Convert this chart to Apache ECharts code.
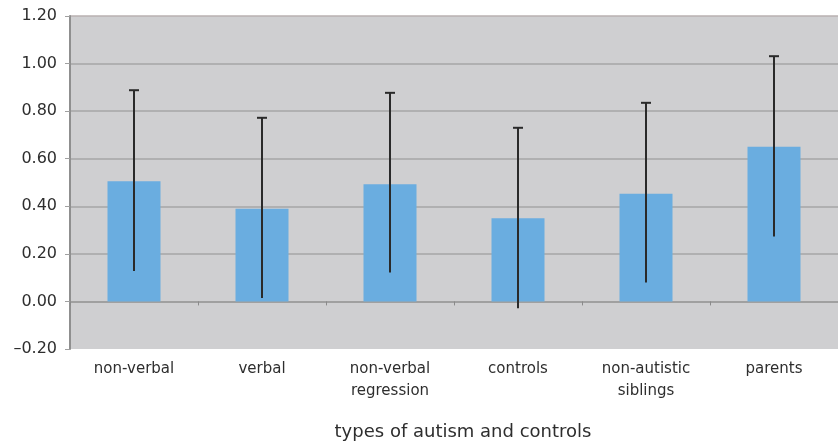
<!DOCTYPE html>
<html>
<head>
<meta charset="utf-8">
<script src="https://cdn.jsdelivr.net/npm/echarts@6/dist/echarts.min.js"></script>
<style>
html,body{margin:0;padding:0;background:#fff;}
#chart{width:838px;height:443px;}
</style>
</head>
<body>
<div id="chart"></div>
<script>
var categories = ['non-verbal', 'verbal', 'non-verbal\nregression', 'controls', 'non-autistic\nsiblings', 'parents'];
var means = [0.505, 0.390, 0.493, 0.350, 0.453, 0.650];
var errHigh = [0.888, 0.772, 0.877, 0.730, 0.835, 1.031];
var errLow = [0.128, 0.014, 0.122, -0.029, 0.080, 0.273];
var yMin = -0.2, yMax = 1.2, yStep = 0.2;
var xTitle = 'types of autism and controls';

var errData = categories.map(function (c, i) { return [i, errLow[i], errHigh[i]]; });
var gridColors = ['rgba(0,0,0,0)', '#a6a6a6', '#a6a6a6', '#a6a6a6', '#a6a6a6', '#a6a6a6', '#a6a6a6', '#b8b0b0'];

var chart = echarts.init(document.getElementById('chart'), null, {renderer: 'canvas'});
chart.setOption({
  animation: false,
  backgroundColor: '#ffffff',
  grid: {
    left: 70, right: -10, top: 16, bottom: 94,
    show: true, backgroundColor: '#cfcfd1', borderWidth: 0
  },
  xAxis: [{
    type: 'category',
    data: categories,
    position: 'bottom',
    axisLine: {show: false, onZero: false},
    axisTick: {show: false},
    axisLabel: {
      color: '#2e2e2e', fontFamily: 'DejaVu Sans', fontSize: 15,
      lineHeight: 22, margin: 9, interval: 0
    }
  }, {
    type: 'category',
    data: categories,
    position: 'top',
    axisLine: {show: true, onZero: true, lineStyle: {color: '#9a9a9a', width: 1.5}},
    axisTick: {show: true, inside: true, length: 4, lineStyle: {color: '#8a8a8a'}},
    axisLabel: {show: false}
  }],
  yAxis: {
    type: 'value',
    min: yMin, max: yMax, interval: yStep,
    axisLine: {show: true, lineStyle: {color: '#8f8f8f', width: 2}},
    axisTick: {show: true, length: 5, lineStyle: {color: '#a0a0a0'}},
    splitLine: {show: true, lineStyle: {color: gridColors, width: 1.5}},
    axisLabel: {
      color: '#2e2e2e', fontFamily: 'DejaVu Sans', fontSize: 16, margin: 13,
      formatter: function (v) {
        var s = Math.abs(v).toFixed(2);
        return v < -1e-9 ? '\u2013' + s : s;
      }
    }
  },
  series: [{
    type: 'bar',
    xAxisIndex: 0,
    data: means,
    barWidth: 53,
    itemStyle: {color: '#6aade0'}
  }, {
    type: 'custom',
    xAxisIndex: 0,
    data: errData,
    encode: {x: 0, y: [1, 2]},
    z: 10,
    renderItem: function (params, api) {
      var x = api.value(0);
      var lo = api.coord([x, api.value(1)]);
      var hi = api.coord([x, api.value(2)]);
      var cap = 5;
      return {
        type: 'group',
        children: [{
          type: 'line',
          shape: {x1: hi[0], y1: hi[1], x2: lo[0], y2: lo[1]},
          style: {stroke: '#2a2a2a', lineWidth: 2}
        }, {
          type: 'line',
          shape: {x1: hi[0] - cap, y1: hi[1], x2: hi[0] + cap, y2: hi[1]},
          style: {stroke: '#2a2a2a', lineWidth: 2}
        }]
      };
    }
  }],
  graphic: [{
    type: 'text',
    x: 463, y: 432,
    style: {
      text: xTitle, fill: '#2e2e2e', fontFamily: 'DejaVu Sans', fontSize: 18,
      textAlign: 'center', textVerticalAlign: 'middle'
    }
  }]
});
</script>
</body>
</html>
